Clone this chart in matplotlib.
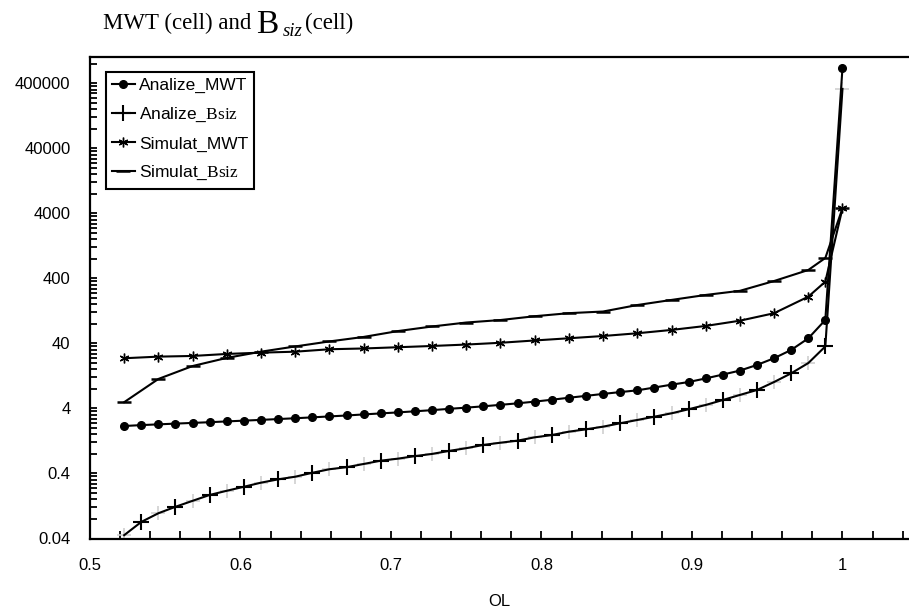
"""Offered load vs. MWT (cell) and B_siz (cell): analysis vs. simulation, log scale."""

import matplotlib

matplotlib.use("Agg")
import matplotlib.pyplot as plt
from matplotlib.ticker import FixedLocator, FuncFormatter, MultipleLocator, NullFormatter

plt.rcParams["font.family"] = ["Liberation Sans", "DejaVu Sans"]
plt.rcParams["mathtext.fontset"] = "custom"
plt.rcParams["mathtext.rm"] = "Liberation Serif"
plt.rcParams["mathtext.it"] = "Liberation Serif:italic"

W, H = 909, 614

# Offered load for the analytic series (every point) ...
RHO_ANALYTIC = [
    0.5227, 0.5341, 0.5455, 0.5568, 0.5682, 0.5795, 0.5909, 0.6023, 0.6136, 0.6250,
    0.6364, 0.6477, 0.6591, 0.6705, 0.6818, 0.6932, 0.7045, 0.7159, 0.7273, 0.7386,
    0.7500, 0.7614, 0.7727, 0.7841, 0.7955, 0.8068, 0.8182, 0.8295, 0.8409, 0.8523,
    0.8636, 0.8750, 0.8864, 0.8977, 0.9091, 0.9205, 0.9318, 0.9432, 0.9545, 0.9659,
    0.9773, 0.9886, 1.0000,
]
# ... and for the simulated series (every second point)
RHO_SIM = [
    0.5227, 0.5455, 0.5682, 0.5909, 0.6136, 0.6364, 0.6591, 0.6818, 0.7045, 0.7273,
    0.7500, 0.7727, 0.7955, 0.8182, 0.8409, 0.8636, 0.8864, 0.9091, 0.9318, 0.9545,
    0.9773, 0.9886, 1.0000,
]

ANALIZE_MWT = [
    2.15, 2.22, 2.28, 2.34, 2.40, 2.46, 2.53, 2.60, 2.67, 2.75,
    2.83, 2.92, 3.02, 3.12, 3.24, 3.36, 3.48, 3.62, 3.77, 3.95,
    4.12, 4.32, 4.55, 4.80, 5.10, 5.45, 5.85, 6.25, 6.70, 7.15,
    7.60, 8.40, 9.30, 10.2, 11.6, 13.3, 15.3, 18.7, 23.7, 31.8,
    48.0, 92.0, 690000,
]
ANALIZE_BSIZ = [
    0.045, 0.072, 0.098, 0.123, 0.152, 0.187, 0.217, 0.250, 0.289, 0.325,
    0.357, 0.410, 0.465, 0.500, 0.560, 0.630, 0.676, 0.740, 0.800, 0.890,
    0.980, 1.10, 1.19, 1.28, 1.44, 1.56, 1.76, 1.91, 2.10, 2.37,
    2.66, 2.99, 3.37, 3.89, 4.53, 5.40, 6.46, 7.70, 10.2, 13.9,
    20.0, 36.0, 330000,
]
SIMULAT_MWT = [
    23.7, 25.1, 25.7, 27.6, 28.9, 29.9, 32.6, 33.5, 35.0, 36.6,
    38.5, 41.0, 44.5, 48.1, 52.1, 57.4, 64.6, 74.4, 89.6, 116.7,
    210, 357, 4800,
]
SIMULAT_BSIZ = [
    5.0, 11.4, 18.0, 24.0, 29.9, 36.0, 43.0, 50.4, 62.0, 73.0,
    84.0, 91.7, 105, 117, 124, 156, 187, 223, 258, 365,
    540, 826, 4800,
]

Y_TICKS = [0.04, 0.4, 4, 40, 400, 4000, 40000, 400000]
Y_TICK_LABELS = ["0.04", "0.4", "4", "40", "400", "4000", "40000", "400000"]


def plot() -> None:
    fig = plt.figure(figsize=(W / 100, H / 100), dpi=100)
    ax = fig.add_axes([90 / W, 1 - 538.5 / H, (W - 90) / W, (538.5 - 57) / H])

    ax.plot(RHO_ANALYTIC, ANALIZE_MWT, color="black", lw=1.5, marker="o", ms=5.5,
            label="Analize_MWT", zorder=4)
    # faint plus markers on every point, as in the scan ...
    ax.plot(RHO_ANALYTIC, ANALIZE_BSIZ, ls="none", marker="+", ms=10, mew=1.2,
            color="#cfcfcf", zorder=2)
    # ... and the line with dark markers on every second point
    ax.plot(RHO_ANALYTIC, ANALIZE_BSIZ, color="black", lw=1.5, marker="+", ms=12,
            mew=1.5, markevery=slice(1, None, 2), label="Analize_$\\mathrm{Bsiz}$", zorder=3)
    ax.plot(RHO_SIM, SIMULAT_MWT, color="black", lw=1.5, marker=(6, 2, 0), ms=7,
            mew=1.0, label="Simulat_MWT", zorder=3)
    ax.plot(RHO_SIM, SIMULAT_BSIZ, color="black", lw=1.5, marker="_", ms=10,
            mew=1.8, label="Simulat_$\\mathrm{Bsiz}$", zorder=3)

    ax.set_yscale("log")
    ax.set_ylim(0.04, 1.02e6)
    ax.set_xlim(0.5, 1.0442)

    ax.yaxis.set_major_locator(FixedLocator(Y_TICKS))
    ax.set_yticklabels(Y_TICK_LABELS)
    minors = [t * m for t in Y_TICKS for m in range(2, 10)]
    ax.yaxis.set_minor_locator(FixedLocator(minors))
    ax.yaxis.set_minor_formatter(NullFormatter())

    ax.xaxis.set_major_locator(MultipleLocator(0.1))
    ax.xaxis.set_minor_locator(MultipleLocator(0.02))
    ax.xaxis.set_major_formatter(FuncFormatter(lambda v, p: f"{v:g}"))

    ax.tick_params(axis="both", which="both", direction="in", width=1.3, labelsize=12, pad=14)
    ax.tick_params(axis="y", which="both", length=5)
    ax.tick_params(axis="x", which="both", length=6)

    ax.spines["right"].set_visible(False)
    for side in ("left", "bottom", "top"):
        ax.spines[side].set_linewidth(1.6)

    ax.set_xlabel("OL", fontsize=12, labelpad=15)

    leg = ax.legend(loc="upper left", bbox_to_anchor=(106 / W, 1 - 71.7 / H),
                    bbox_transform=fig.transFigure, borderaxespad=0, fontsize=12.5,
                    frameon=True, fancybox=False, edgecolor="black", framealpha=1,
                    handlelength=1.3, handletextpad=0.25, labelspacing=0.72, borderpad=0.35)
    leg.get_frame().set_linewidth(1.5)

    # title with a big B and italic subscript
    serif = "Liberation Serif"
    fig.text(103 / W, 1 - 29.3 / H, "MWT (cell) and", fontsize=16.5, family=serif, va="baseline")
    fig.text(256 / W, 1 - 33.0 / H, "B", fontsize=24, family=serif, va="baseline")
    fig.text(283 / W, 1 - 36.5 / H, "siz", fontsize=13.5, family=serif, style="italic", va="baseline")
    fig.text(305 / W, 1 - 29.3 / H, "(cell)", fontsize=16.5, family=serif, va="baseline")

    fig.savefig("out.png", dpi=100)


if __name__ == "__main__":
    plot()
